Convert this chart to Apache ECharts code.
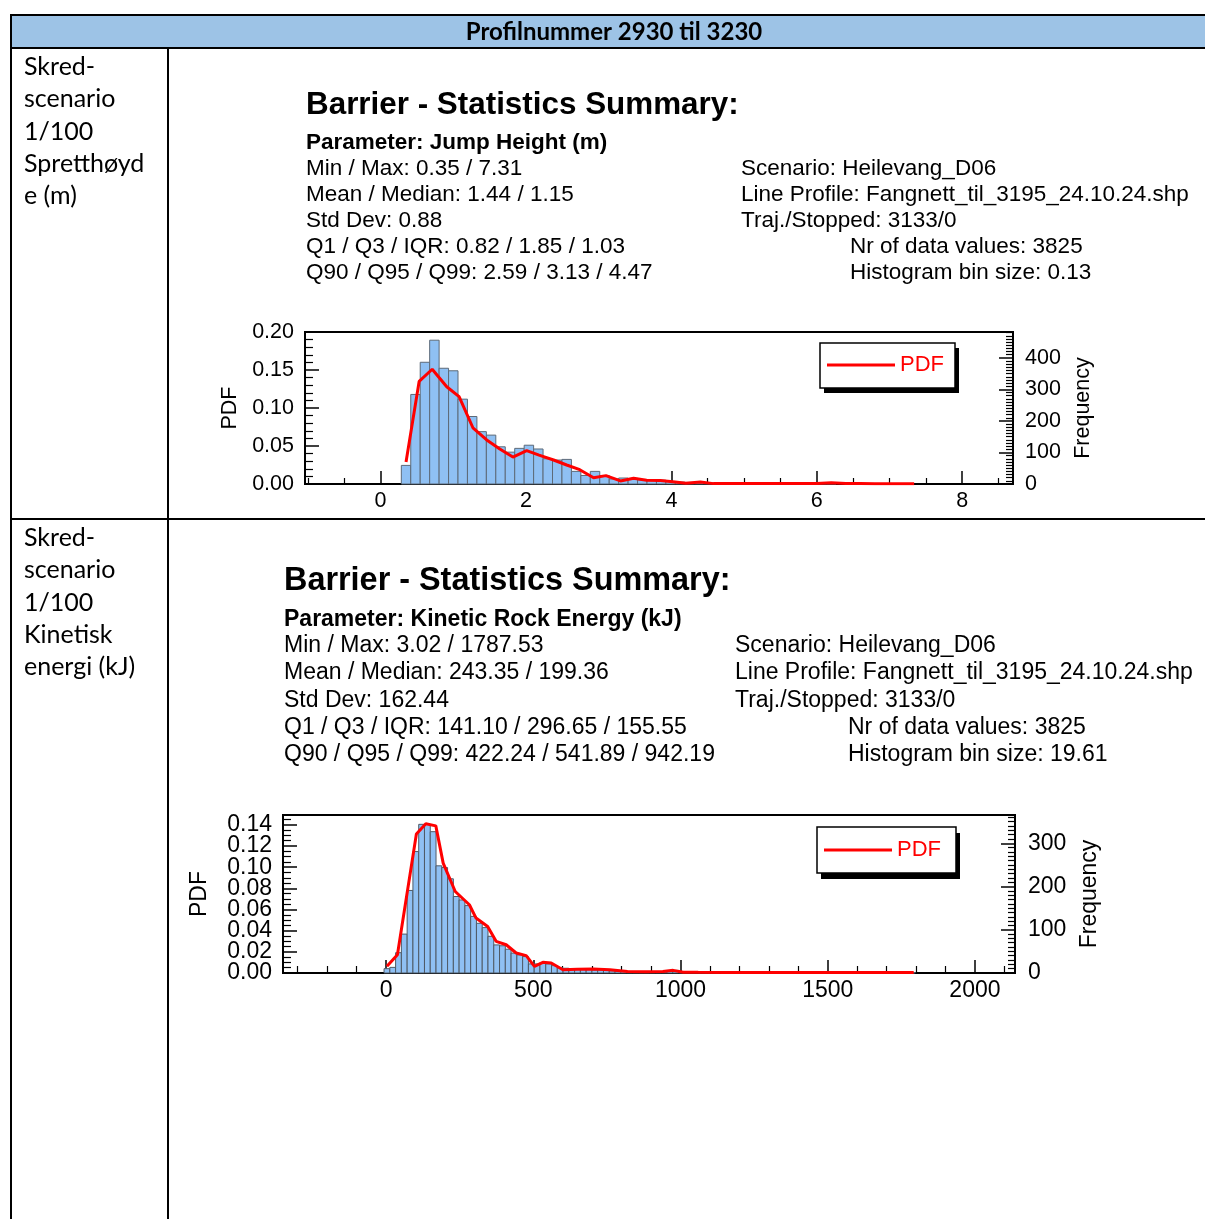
<!DOCTYPE html>
<html>
<head>
<meta charset="utf-8">
<script src="https://cdn.jsdelivr.net/npm/echarts@6/dist/echarts.min.js"></script>
<style>
  html, body { margin: 0; padding: 0; background: #fff; }
  #chart { width: 1205px; height: 1219px; }
</style>
</head>
<body>
<div id="chart"></div>
<script>
// ---- data ----
const headerTitle = 'Profilnummer 2930 til 3230';
const rowLabels1 = ['Skred-', 'scenario', '1/100', 'Spretthøyd', 'e (m)'];
const rowLabels2 = ['Skred-', 'scenario', '1/100', 'Kinetisk', 'energi (kJ)'];

const stats1Param = 'Parameter: Jump Height (m)';
const stats1Left = ['Min / Max: 0.35 / 7.31', 'Mean / Median: 1.44 / 1.15', 'Std Dev: 0.88',
  'Q1 / Q3 / IQR: 0.82 / 1.85 / 1.03', 'Q90 / Q95 / Q99: 2.59 / 3.13 / 4.47'];
const stats1Right = ['Scenario: Heilevang_D06', 'Line Profile: Fangnett_til_3195_24.10.24.shp',
  'Traj./Stopped: 3133/0', 'Nr of data values: 3825', 'Histogram bin size: 0.13'];

const stats2Param = 'Parameter: Kinetic Rock Energy (kJ)';
const stats2Left = ['Min / Max: 3.02 / 1787.53', 'Mean / Median: 243.35 / 199.36', 'Std Dev: 162.44',
  'Q1 / Q3 / IQR: 141.10 / 296.65 / 155.55', 'Q90 / Q95 / Q99: 422.24 / 541.89 / 942.19'];
const stats2Right = ['Scenario: Heilevang_D06', 'Line Profile: Fangnett_til_3195_24.10.24.shp',
  'Traj./Stopped: 3133/0', 'Nr of data values: 3825', 'Histogram bin size: 19.61'];

// histogram 1 (jump height), bins start at min value
const hist1Start = 0.35;
const hist1Bin = 0.13;
const hist1Freq = [59, 284, 386, 456, 367, 359, 269, 214, 166, 155, 118, 101, 113, 123, 111, 80, 76, 78,
  40, 27, 40, 27, 16, 19, 17, 13, 13, 12, 8, 6, 5, 4, 3, 3, 2, 2, 2, 1, 1, 2, 1, 1, 1, 0, 1, 1, 0, 1,
  0, 0, 0, 1, 0, 1];
const pdf1X = [0.35, 0.53, 0.71, 0.91, 1.08, 1.27, 1.46, 1.64, 1.82, 2.01, 2.18, 2.38, 2.56, 2.74, 2.93,
  3.10, 3.30, 3.48, 3.66, 3.85, 4.02, 4.2, 4.4, 4.58, 4.8, 5.0, 5.2, 5.4, 5.6, 5.8, 6.0, 6.2, 6.4, 6.6,
  6.8, 7.0, 7.2, 7.34];
const pdf1Y = [0.029, 0.135, 0.151, 0.128, 0.115, 0.074, 0.058, 0.046, 0.0355, 0.044, 0.038, 0.0316,
  0.025, 0.0188, 0.0083, 0.011, 0.004, 0.0075, 0.005, 0.0045, 0.003, 0.001, 0.0026, 0.0005, 0.0005,
  0.0008, 0.0005, 0.0005, 0.0008, 0.0005, 0.0008, 0.0018, 0.0005, 0.0005, 0.0004, 0.0004, 0.0004, 0.0004];

// histogram 2 (kinetic energy)
const hist2Start = 3.02;
const hist2Bin = 19.61;
const hist2Freq = [10, 13, 47, 90, 191, 281, 344, 344, 327, 248, 244, 218, 177, 169, 156, 131, 115, 105,
  85, 65, 63, 55, 46, 42, 38, 21, 21, 24, 21, 17, 12, 11, 9, 9, 8, 8, 7, 7, 6,
  5, 4, 4, 3, 3, 3, 2, 2, 3, 2, 5, 6, 3, 2,
  1, 1, 2, 1, 1, 0, 1, 1, 1, 0, 1, 1, 0, 1, 0, 1, 0, 0, 1, 0, 1, 0, 0, 1, 0, 0, 0, 1, 0, 0, 1, 0, 0,
  0, 0, 1, 0, 0, 1];
const pdf2X = [3, 38.6, 103, 135, 169, 194, 235, 283, 305.6, 345, 373.8, 408, 442, 476, 504, 532.6, 561,
  600.7, 650, 703, 760, 820, 880, 940, 975, 1010, 1060, 1150, 1250, 1350, 1450, 1550, 1650, 1750, 1792];
const pdf2Y = [0.0063, 0.0173, 0.1314, 0.141, 0.139, 0.1038, 0.077, 0.0645, 0.0519, 0.044, 0.0299,
  0.0267, 0.0189, 0.0164, 0.0063, 0.0101, 0.0094, 0.0031, 0.0035, 0.0038, 0.0031, 0.0015, 0.0012,
  0.0015, 0.0025, 0.0008, 0.0006, 0.0005, 0.0005, 0.0004, 0.0004, 0.0004, 0.0004, 0.0004, 0.0004];

// ---- helpers ----
const FONT = '"Liberation Sans", Arial, sans-serif';
const CAL = 'Lato, "Open Sans", sans-serif';

const binData = (start, bin, freq) => freq.map((f, i) => [start + i * bin, f]);
const pairData = (xs, ys) => xs.map((x, i) => [x, ys[i]]);

const histRender = (bin, stroke) => (params, api) => {
  const c = api.value(0);
  const f = api.value(1);
  if (!f) return null;
  const a = api.coord([c - bin / 2, f]);
  const b = api.coord([c + bin / 2, 0]);
  return {
    type: 'rect',
    shape: { x: a[0], y: a[1], width: b[0] - a[0], height: b[1] - a[1] },
    style: { fill: '#8fc0f3', stroke, lineWidth: 1 },
  };
};

const txt = (text, x, y, font, extra) => ({
  type: 'text', x, y, silent: true,
  style: Object.assign({ text, font, fill: '#000', verticalAlign: 'middle' }, extra || {}),
});
const hline = (x1, x2, y) => ({ type: 'line', silent: true, shape: { x1, y1: y, x2, y2: y }, style: { stroke: '#000', lineWidth: 2 } });
const vline = (x, y1, y2) => ({ type: 'line', silent: true, shape: { x1: x, y1, x2: x, y2 }, style: { stroke: '#000', lineWidth: 2 } });

// legend frame with the hard black drop shadow
const legendBox = (x, y, w, h, dx, dy) => [
  { type: 'rect', silent: true, z: 10, shape: { x: x + dx, y: y + dy, width: w, height: h }, style: { fill: '#000' } },
  { type: 'rect', silent: true, z: 11, shape: { x, y, width: w, height: h }, style: { fill: '#fff', stroke: '#000', lineWidth: 1.5 } },
];

const statsBlock = (title, param, left, right, x0, xr, xr2, yTitle, yParam, ys, tSize, sSize) => {
  const out = [];
  out.push(txt(title, x0, yTitle, `bold ${tSize}px ${FONT}`));
  out.push(txt(param, x0, yParam, `bold ${sSize}px ${FONT}`));
  left.forEach((s, i) => out.push(txt(s, x0, ys[i], `${sSize}px ${FONT}`)));
  right.forEach((s, i) => out.push(txt(s, i < 3 ? xr : xr2, ys[i], `${sSize}px ${FONT}`)));
  return out;
};

const axisCommon = (size) => ({
  axisLine: { show: true, onZero: false, lineStyle: { color: '#000', width: 2 } },
  axisTick: { show: true, inside: true, length: 13, lineStyle: { color: '#000', width: 1.5 } },
  minorTick: { show: true, length: 7, lineStyle: { color: '#000', width: 1.2 } },
  splitLine: { show: false },
  minorSplitLine: { show: false },
  axisLabel: { color: '#000', fontFamily: FONT, fontSize: size, hideOverlap: false },
  nameTextStyle: { color: '#000', fontFamily: FONT, fontSize: size },
});

const merge = (a, b) => {
  const o = Object.assign({}, a);
  Object.keys(b).forEach((k) => {
    o[k] = (typeof b[k] === 'object' && !Array.isArray(b[k]) && a[k]) ? Object.assign({}, a[k], b[k]) : b[k];
  });
  return o;
};

// ---- graphic: table + text ----
const graphics = [
  { type: 'rect', silent: true, shape: { x: 11, y: 15, width: 1200, height: 33 }, style: { fill: '#9dc3e6' } },
  hline(10, 1205, 15), hline(10, 1205, 48), hline(10, 1205, 519),
  vline(11, 14, 1219), vline(168, 48, 1219),
  txt(headerTitle, 614, 32, `bold 24px ${CAL}`, { align: 'center' }),
];
rowLabels1.forEach((s, i) => graphics.push(txt(s, 24, 67 + i * 32.3, `25px ${CAL}`)));
rowLabels2.forEach((s, i) => graphics.push(txt(s, 24, 538 + i * 32.3, `25px ${CAL}`)));
graphics.push(...statsBlock('Barrier - Statistics Summary:', stats1Param, stats1Left, stats1Right,
  306, 741, 850, 105, 143, [169, 195, 221, 247, 273], 31.4, 22.5));
graphics.push(...statsBlock('Barrier - Statistics Summary:', stats2Param, stats2Left, stats2Right,
  284, 735, 848, 581, 620, [646, 673, 701, 728, 755], 32.4, 23));
graphics.push(...legendBox(820, 343, 135, 45, 4, 5));
graphics.push(...legendBox(817, 827, 139, 46, 4, 6));

// ---- chart ----
const chart = echarts.init(document.getElementById('chart'), null, { renderer: 'canvas' });

const legendStyle = {
  orient: 'horizontal', icon: 'rect', itemWidth: 68, itemHeight: 3, z: 20,
  textStyle: { color: '#ff0000', fontFamily: FONT, fontSize: 22 },
  selectedMode: false, data: ['PDF'],
};

const option = {
  animation: false,
  backgroundColor: '#fff',
  graphic: graphics,
  legend: [
    Object.assign({}, legendStyle, { left: 820, top: 343, padding: [11, 8, 11, 7] }),
    Object.assign({}, legendStyle, { left: 817, top: 827, padding: [12, 9, 12, 7] }),
  ],
  grid: [
    { left: 305, top: 332, width: 708, height: 152, show: true, borderColor: '#000', borderWidth: 2 },
    { left: 283, top: 815, width: 732, height: 158, show: true, borderColor: '#000', borderWidth: 2 },
  ],
  xAxis: [
    merge(axisCommon(21.5), {
      type: 'value', gridIndex: 0, min: -1.04, max: 8.7,
      minorTick: { show: true, splitNumber: 4, length: 6 },
      axisLabel: { margin: 6, showMinLabel: false, showMaxLabel: false },
    }),
    merge(axisCommon(23), {
      type: 'value', gridIndex: 1, min: -350, max: 2136,
      minorTick: { show: true, splitNumber: 5, length: 7 },
      axisLabel: { margin: 6, showMinLabel: false, showMaxLabel: false, formatter: (v) => String(v) },
    }),
  ],
  yAxis: [
    merge(axisCommon(21.5), {
      type: 'value', gridIndex: 0, position: 'left', min: 0, max: 0.2, interval: 0.05,
      minorTick: { show: true, splitNumber: 5, length: 8 },
      axisTick: { length: 14 },
      axisLabel: { margin: 11, formatter: (v) => v.toFixed(2) },
      name: 'PDF', nameLocation: 'middle', nameGap: 64,
    }),
    merge(axisCommon(21.5), {
      type: 'value', gridIndex: 0, position: 'right', min: 0, max: 482, interval: 100,
      minorTick: { show: true, splitNumber: 10, length: 7 },
      axisTick: { length: 14 },
      axisLabel: { margin: 12, showMaxLabel: false },
      name: 'Frequency', nameLocation: 'middle', nameGap: 58,
    }),
    merge(axisCommon(23), {
      type: 'value', gridIndex: 1, position: 'left', min: 0, max: 0.1493, interval: 0.02,
      minorTick: { show: true, splitNumber: 4, length: 8 },
      axisTick: { length: 14 },
      axisLabel: { margin: 11, showMinLabel: false, showMaxLabel: false, formatter: (v) => v.toFixed(2) },
      name: 'PDF', nameLocation: 'middle', nameGap: 72,
    }),
    merge(axisCommon(23), {
      type: 'value', gridIndex: 1, position: 'right', min: 0, max: 365.6, interval: 100,
      minorTick: { show: true, splitNumber: 10, length: 7 },
      axisTick: { length: 14 },
      axisLabel: { margin: 13, showMaxLabel: false },
      name: 'Frequency', nameLocation: 'middle', nameGap: 63,
    }),
    // overlay on the lower PDF axis, only carries its crowded "0.00" label
    {
      type: 'value', gridIndex: 1, position: 'left', min: 0, max: 0.1493, interval: 0.1,
      axisLine: { show: false, onZero: false }, axisTick: { show: false }, splitLine: { show: false },
      axisLabel: {
        margin: 11, color: '#000', fontFamily: FONT, fontSize: 23, padding: [6, 0, 0, 0],
        showMaxLabel: false, formatter: (v) => (v === 0 ? v.toFixed(2) : ''),
      },
    },
  ],
  series: [
    {
      name: 'Frequency 1', type: 'custom', xAxisIndex: 0, yAxisIndex: 1, z: 1,
      renderItem: histRender(hist1Bin, '#5d6a78'), encode: { x: 0, y: 1 },
      data: binData(hist1Start, hist1Bin, hist1Freq),
    },
    {
      name: 'PDF', type: 'line', xAxisIndex: 0, yAxisIndex: 0, z: 3,
      symbol: 'none', color: '#ff0000', lineStyle: { color: '#ff0000', width: 3 },
      data: pairData(pdf1X, pdf1Y),
    },
    {
      name: 'Frequency 2', type: 'custom', xAxisIndex: 1, yAxisIndex: 3, z: 1,
      renderItem: histRender(hist2Bin, '#4f5a66'), encode: { x: 0, y: 1 },
      data: binData(hist2Start, hist2Bin, hist2Freq),
    },
    {
      name: 'PDF', type: 'line', xAxisIndex: 1, yAxisIndex: 2, z: 3,
      symbol: 'none', color: '#ff0000', lineStyle: { color: '#ff0000', width: 3 },
      data: pairData(pdf2X, pdf2Y),
    },
  ],
};

chart.setOption(option);
</script>
</body>
</html>
